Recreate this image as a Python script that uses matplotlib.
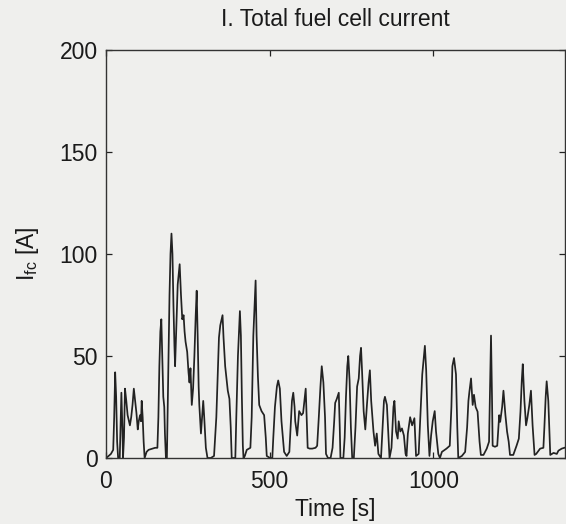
import matplotlib
matplotlib.use("Agg")
import matplotlib.pyplot as plt

plt.rcParams['font.family'] = ['Liberation Sans', 'DejaVu Sans']
plt.rcParams['mathtext.fontset'] = 'custom'
plt.rcParams['mathtext.rm'] = 'Liberation Sans'
plt.rcParams['mathtext.it'] = 'Liberation Sans'

title = "I. Total fuel cell current"
xlabel = "Time [s]"
ylabel = r"$\mathregular{I_{fc}}$ [A]"
xticks = [0, 500, 1000]
yticks = [0, 50, 100, 150, 200]

time = [0, 8, 15, 22, 25, 28, 31, 34, 37, 42, 45, 47, 50, 52, 55, 58, 62, 66, 70, 73,
        77, 81, 85, 89, 93, 97, 100, 104, 107, 109, 112, 115, 118,
        124, 130, 140, 150, 157, 160, 163, 166, 169, 172, 175, 178, 180, 183,
        186, 190, 194, 197, 200, 203, 206, 209, 211, 215, 219, 225, 229, 233, 237, 240,
        243, 248, 252, 255, 258, 262, 266, 270, 274, 277, 280, 283, 285, 290, 295, 297,
        300, 305, 310, 320, 330,
        337, 342, 345, 349, 356, 359, 364, 368, 372, 377, 381, 384, 395, 398, 403, 409,
        412, 415, 418, 420, 424, 430, 441, 445, 450, 457, 460, 464, 468, 475, 483, 488,
        491, 501, 508, 511, 516, 522, 526, 531, 536, 544, 552, 560, 564, 568, 572, 576,
        578, 584, 590, 597, 602, 606, 610, 613, 616, 622, 630, 640, 645, 650, 655, 659,
        664, 669, 672, 678, 686, 692, 697, 700, 705, 711, 714, 716, 725, 729, 733, 737,
        740, 744, 748, 752, 757, 762, 767, 772, 776, 779, 782, 787, 792, 797, 802, 806,
        810, 817, 822, 827, 832, 840, 845, 849, 852, 858, 863, 866, 872, 878, 881, 886,
        891, 894, 899, 904, 910, 915, 918, 922, 929, 935, 942, 945, 947, 955, 960, 966,
        970, 974, 978, 983, 988, 993, 998, 1004, 1008, 1015, 1020, 1026, 1040, 1050,
        1055, 1058, 1063, 1069, 1073, 1076, 1087, 1097, 1103, 1107, 1110, 1115, 1120,
        1124, 1129, 1135, 1141, 1145, 1153, 1163, 1170, 1173, 1176, 1179, 1181, 1188,
        1195, 1201, 1204, 1210, 1214, 1220, 1225, 1230, 1234, 1244, 1254, 1261, 1266,
        1270, 1273, 1278, 1283, 1287, 1293, 1298, 1303, 1309, 1314, 1326, 1336, 1339,
        1343, 1346, 1351, 1357, 1367, 1377, 1382, 1392, 1400]

current = [0, 1, 2, 4, 20, 42, 30, 8, 0, 0, 20, 32, 15, 0, 10, 34, 28, 21, 18, 16,
           20, 26, 34, 28, 22, 14, 18, 21, 18, 28, 20, 8, 0,
           3, 4, 4.5, 5, 5, 20, 45, 62, 68, 50, 30, 25, 12, 0,
           0, 40, 80, 100, 110, 100, 75, 55, 45, 65, 85, 95, 80, 68, 70, 62,
           57, 52, 42, 37, 44, 26, 34, 50, 70, 82, 60, 35, 26, 12, 23, 28,
           20, 5, 0, 0, 1,
           20, 45, 59, 65, 70, 59, 45, 39, 33, 29, 15, 0, 0, 20, 50, 72,
           60, 30, 6, 0, 1, 4, 5, 20, 60, 87, 60, 40, 26, 23, 21, 10,
           1, 0, 0, 10, 25, 35, 38, 34, 18, 3, 1, 3, 15, 28, 32, 25,
           18, 11, 23, 21, 22, 28, 34, 20, 5, 4.6, 4.6, 5, 6, 20, 35, 45,
           37, 20, 2, 0, 0, 5, 18, 27, 29, 32, 15, 0, 0, 10, 30, 45,
           50, 38, 15, 0, 0, 15, 35, 39, 50, 54, 43, 23, 14, 26, 37, 43,
           28, 13, 6, 12, 2, 0, 15, 28, 30, 26, 10, 0, 5, 25, 28, 13,
           9.5, 18, 13, 14.5, 11, 2, 1, 12, 20, 16, 19.5, 8, 1, 2, 20, 41,
           48, 55, 43, 16, 1, 11, 18, 23, 13, 2, 0, 3, 4.6, 6,
           25, 45, 49, 41, 15, 0, 1, 3, 15, 28, 32.5, 39, 26,
           31, 25, 22.7, 8, 1.5, 1.5, 4.6, 8, 35, 60, 30, 6, 5.5,
           6, 21, 17.7, 25, 33, 21, 13, 8, 1.5, 1.5, 6, 9.5, 22.7,
           38, 46, 28, 16, 19.5, 26, 33, 16, 1.5, 2, 4.6, 5, 15,
           30, 37.6, 28, 1.5, 2.5, 2, 3.6, 4.6, 5]

bg = '#efefed'
ink = '#222222'
fs = 16.5

fig = plt.figure(figsize=(5.66, 5.24), dpi=100, facecolor=bg)
ax = fig.add_axes([106/566, 1 - 458/524, (565-106)/566, (458-50)/524])
ax.set_facecolor(bg)
ax.plot(time, current, color=ink, linewidth=1.25)

ax.set_xlim(0, 1402)
ax.set_ylim(0, 200)
ax.set_xticks(xticks)
ax.set_yticks(yticks)
ax.tick_params(direction='in', length=4, width=0.9, colors=ink, labelsize=fs,
               top=True, right=True, pad=6, labelcolor='#1a1a1a')
ax.tick_params(axis='x', pad=9)
for s in ax.spines.values():
    s.set_color('#333333')
    s.set_linewidth(1.0)

ax.set_title(title, fontsize=fs, color='#1a1a1a', pad=17)
ax.set_xlabel(xlabel, fontsize=fs, color='#1a1a1a', labelpad=3)
ax.set_ylabel(ylabel, fontsize=fs, color='#1a1a1a', labelpad=13)

fig.savefig('out.png', dpi=100, facecolor=bg)
